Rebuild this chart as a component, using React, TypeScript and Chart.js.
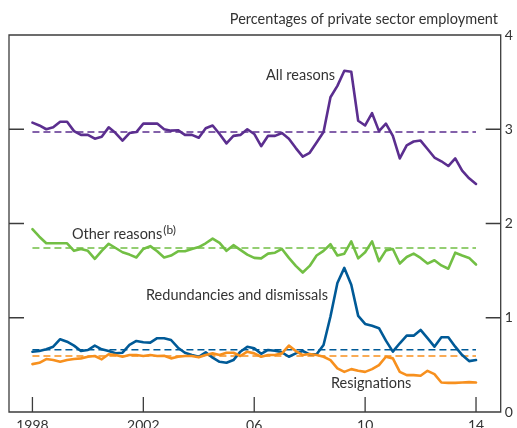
import { useEffect, useRef } from "react";
import { Chart, registerables } from "chart.js";

Chart.register(...registerables);

const startYear = 1998; // first quarter of the series (1998 Q1), quarterly data
const tickYears = [1998, 2002, 2006, 2010, 2014];
const tickLabels = ["1998", "2002", "06", "10", "14"];
const yTicks = [0, 1, 2, 3, 4];

const allReasons = [3.07, 3.04, 3.0, 3.02, 3.08, 3.08, 2.98, 2.94, 2.94, 2.9, 2.92, 3.02, 2.96, 2.88, 2.96, 2.97, 3.06, 3.06, 3.06, 3.0, 2.985, 2.99, 2.94, 2.94, 2.91, 3.01, 3.04, 2.95, 2.85, 2.93, 2.94, 3.0, 2.95, 2.82, 2.93, 2.93, 2.96, 2.9, 2.8, 2.71, 2.75, 2.86, 2.97, 3.34, 3.46, 3.62, 3.61, 3.09, 3.04, 3.17, 2.98, 3.06, 2.93, 2.69, 2.83, 2.87, 2.88, 2.79, 2.7, 2.66, 2.61, 2.69, 2.56, 2.48, 2.42];
const otherReasons = [1.94, 1.86, 1.79, 1.79, 1.79, 1.79, 1.71, 1.73, 1.71, 1.625, 1.71, 1.785, 1.74, 1.695, 1.67, 1.64, 1.73, 1.76, 1.705, 1.64, 1.66, 1.705, 1.705, 1.73, 1.75, 1.79, 1.84, 1.795, 1.71, 1.77, 1.72, 1.67, 1.635, 1.63, 1.68, 1.69, 1.73, 1.635, 1.55, 1.48, 1.55, 1.66, 1.71, 1.78, 1.66, 1.68, 1.81, 1.63, 1.695, 1.81, 1.6, 1.715, 1.73, 1.575, 1.645, 1.68, 1.635, 1.575, 1.61, 1.555, 1.52, 1.69, 1.66, 1.635, 1.565];
const redundancies = [0.64, 0.647, 0.665, 0.693, 0.772, 0.746, 0.704, 0.647, 0.658, 0.704, 0.665, 0.647, 0.623, 0.629, 0.711, 0.754, 0.74, 0.736, 0.783, 0.783, 0.764, 0.682, 0.629, 0.604, 0.586, 0.633, 0.576, 0.533, 0.522, 0.551, 0.64, 0.693, 0.676, 0.617, 0.658, 0.65, 0.633, 0.586, 0.622, 0.647, 0.612, 0.612, 0.711, 1.013, 1.369, 1.529, 1.351, 1.02, 0.935, 0.914, 0.889, 0.757, 0.64, 0.729, 0.81, 0.81, 0.871, 0.783, 0.693, 0.793, 0.793, 0.693, 0.604, 0.54, 0.551];
const resignations = [0.508, 0.522, 0.562, 0.551, 0.533, 0.551, 0.562, 0.569, 0.586, 0.594, 0.559, 0.612, 0.604, 0.586, 0.604, 0.604, 0.594, 0.604, 0.594, 0.597, 0.569, 0.586, 0.594, 0.594, 0.58, 0.604, 0.622, 0.604, 0.629, 0.629, 0.594, 0.64, 0.622, 0.586, 0.604, 0.604, 0.622, 0.704, 0.647, 0.604, 0.615, 0.604, 0.586, 0.551, 0.463, 0.426, 0.455, 0.437, 0.426, 0.455, 0.498, 0.586, 0.569, 0.426, 0.391, 0.391, 0.384, 0.437, 0.402, 0.313, 0.309, 0.309, 0.313, 0.317, 0.313];

const averages = { all: 2.97, other: 1.74, red: 0.66, res: 0.595 };

const PURPLE = "#5b2e8f";
const GREEN = "#72bf44";
const BLUE = "#005a97";
const ORANGE = "#f7901e";
const TEXT = "#333333";
const FONT = "Lato, 'Noto Sans', sans-serif";

const toPoints = (arr: number[]) => arr.map((v, i) => ({ x: startYear + i / 4, y: v }));
const endYear = startYear + (allReasons.length - 1) / 4;
const avgLine = (v: number) => [
  { x: startYear, y: v },
  { x: endYear, y: v },
];

const framePlugin = {
  id: "frameAndText",
  afterDraw(chart: any) {
    const { ctx, chartArea } = chart;
    const { left, right, top, bottom } = chartArea;
    const xs = chart.scales.x;
    const ys = chart.scales.y;
    ctx.save();
    ctx.strokeStyle = "#3c3c3c";
    ctx.lineWidth = 1.3;
    ctx.beginPath();
    ctx.rect(left, top, right - left, bottom - top);
    ctx.stroke();
    ctx.beginPath();
    yTicks.forEach((v) => {
      if (v === 0 || v === 4) return;
      const y = ys.getPixelForValue(v);
      ctx.moveTo(left, y);
      ctx.lineTo(left + 15, y);
      ctx.moveTo(right - 15, y);
      ctx.lineTo(right, y);
    });
    tickYears.forEach((t) => {
      const x = xs.getPixelForValue(t);
      ctx.moveTo(x, bottom);
      ctx.lineTo(x, bottom - 15);
    });
    ctx.stroke();

    ctx.fillStyle = TEXT;
    // x tick labels
    ctx.font = `14px ${FONT}`;
    ctx.textAlign = "center";
    ctx.textBaseline = "top";
    tickYears.forEach((t, i) => {
      ctx.fillText(tickLabels[i], xs.getPixelForValue(t), bottom + 6);
    });

    ctx.textBaseline = "alphabetic";
    ctx.font = `14.5px ${FONT}`;
    ctx.textAlign = "right";
    ctx.fillText("Percentages of private sector employment", 498, 24);
    ctx.textAlign = "left";
    ctx.fillText("All reasons", 266, 80);
    ctx.fillText("Other reasons", 72, 239);
    const w = ctx.measureText("Other reasons").width;
    ctx.font = `12px ${FONT}`;
    ctx.fillText("(b)", 72 + w + 1, 234);
    ctx.font = `14.5px ${FONT}`;
    ctx.fillText("Redundancies and dismissals", 146, 300);
    ctx.fillText("Resignations", 331, 388);
    ctx.restore();
  },
};

export default function App() {
  const ref = useRef<HTMLCanvasElement | null>(null);
  useEffect(() => {
    if (!ref.current) return;
    const lineDs = (label: string, data: number[], color: string) => ({
      label,
      data: toPoints(data),
      borderColor: color,
      borderWidth: 2.6,
      pointRadius: 0,
      tension: 0,
      borderJoinStyle: "round" as const,
      borderCapStyle: "round" as const,
    });
    const avgDs = (label: string, v: number, color: string) => ({
      label,
      data: avgLine(v),
      borderColor: color,
      borderWidth: 1.5,
      borderDash: [7, 4],
      pointRadius: 0,
    });
    const chart = new Chart(ref.current, {
      type: "line",
      data: {
        datasets: [
          lineDs("Resignations", resignations, ORANGE),
          lineDs("Redundancies and dismissals", redundancies, BLUE),
          lineDs("Other reasons", otherReasons, GREEN),
          lineDs("All reasons", allReasons, PURPLE),
          avgDs("All avg", averages.all, PURPLE),
          avgDs("Other avg", averages.other, GREEN),
          avgDs("Red avg", averages.red, BLUE),
          avgDs("Res avg", averages.res, ORANGE),
        ] as any,
      },
      options: {
        animation: false,
        responsive: true,
        maintainAspectRatio: false,
        layout: { padding: { left: 9, top: 35, right: 0, bottom: 0 } },
        plugins: { legend: { display: false }, tooltip: { enabled: false }, title: { display: false } },
        scales: {
          x: {
            type: "linear",
            min: 1997.155,
            max: 2014.89,
            grid: { display: false },
            border: { display: false },
            afterBuildTicks: (s: any) => {
              s.ticks = tickYears.map((v) => ({ value: v }));
            },
            afterFit: (s: any) => {
              s.height = 16;
            },
            ticks: { display: false },
          },
          y: {
            position: "right",
            min: 0,
            max: 4,
            grid: { display: false, drawTicks: false },
            border: { display: false },
            afterBuildTicks: (s: any) => {
              s.ticks = yTicks.map((v) => ({ value: v }));
            },
            afterFit: (s: any) => {
              s.width = 16.3;
            },
            ticks: {
              padding: 4,
              color: TEXT,
              font: { family: FONT, size: 14 },
            },
          },
        },
      },
      plugins: [framePlugin],
    });
    return () => chart.destroy();
  }, []);
  return (
    <div style={{ position: "fixed", left: 0, top: 0, width: 517, height: 428 }}>
      <canvas ref={ref} />
    </div>
  );
}
